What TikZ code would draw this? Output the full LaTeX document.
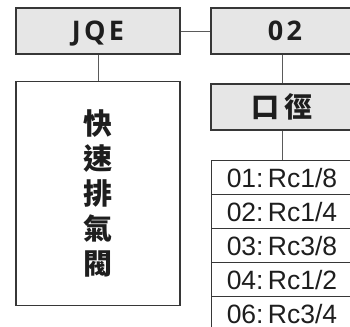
\documentclass[tikz,border=0pt]{standalone}
\usepackage{fontspec}
\setmainfont{Liberation Sans}
\newfontfamily\cjk{Noto Sans CJK TC}
\newfontfamily\hdr[LetterSpace=12]{Open Sans}
\definecolor{boxfill}{RGB}{230,230,230}
\definecolor{boxline}{RGB}{55,55,55}
\definecolor{conline}{RGB}{90,90,90}
\definecolor{txt}{RGB}{30,30,30}
\tikzset{
  hbox/.style={draw=boxline, line width=1.2pt, fill=boxfill, minimum width=164pt, minimum height=46pt, inner sep=0pt, text=txt},
  rbox/.style={draw=boxline, line width=1.2pt, fill=boxfill, minimum width=142pt, minimum height=46pt, inner sep=0pt, text=txt},
  hdrtext/.style={font=\hdr\bfseries\fontsize{27}{29}\selectfont, text height=19pt, text depth=0pt},
  tabrow/.style={draw=boxline, line width=0.8pt, fill=white, minimum width=142pt, minimum height=34pt, inner sep=0pt, text=txt, font=\fontsize{26.5}{28}\selectfont},
  conn/.style={draw=conline, line width=0.9pt}
}
\begin{document}
\begin{tikzpicture}[x=1pt,y=-1pt]
\useasboundingbox (0,0) rectangle (350,326);
\clip (0,0) rectangle (350,326);
\fill[white] (0,0) rectangle (350,326);
\node[hbox, hdrtext] (jqe) at (98,31) {JQE};
\node[rbox, hdrtext] (code) at (282,31) {\hspace{6pt}02};
\node[hbox, fill=white, minimum height=224pt, align=center, font=\cjk\bfseries\fontsize{29}{35}\selectfont] (name) at (98,193.7) {快\\速\\排\\氣\\閥};
\node[rbox, font=\cjk\bfseries\fontsize{28}{30}\selectfont] (port) at (282,107) {口\hspace{6pt}徑};
\node[tabrow] (r1) at (282,177.7) {01:\,Rc1/8};
\node[tabrow] (r2) at (282,211.7) {02:\,Rc1/4};
\node[tabrow] (r3) at (282,245.7) {03:\,Rc3/8};
\node[tabrow] (r4) at (282,279.7) {04:\,Rc1/2};
\node[tabrow] (r5) at (282,313.7) {06:\,Rc3/4};
\draw[conn] (jqe.east) -- (code.west);
\draw[conn] (jqe.south) -- (name.north);
\draw[conn] (code.south) -- (port.north);
\draw[conn] (port.south) -- (r1.north);
\end{tikzpicture}
\end{document}
